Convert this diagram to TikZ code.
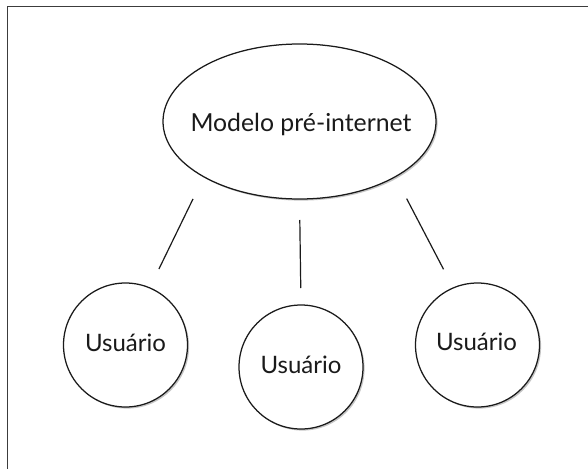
\documentclass[tikz,border=0pt]{standalone}
\usepackage{fontspec}
\setmainfont{Lato}
\usetikzlibrary{shapes.geometric,shadows}
\definecolor{ink}{HTML}{1A1A1A}
\begin{document}
\begin{tikzpicture}[x=1pt,y=-1pt,
  every node/.style={inner sep=0pt,outer sep=0pt,font=\fontsize{24}{28}\selectfont,text=ink},
  shadowed/.style={draw=ink,line width=1.25pt,fill=white,
    drop shadow={shadow xshift=1.6pt,shadow yshift=-1.6pt,fill=black!45}},
  topbox/.style={shadowed,ellipse,minimum width=273pt,minimum height=155pt},
  userbox/.style={shadowed,circle,minimum size=124pt},
  link/.style={draw=ink,line width=1.2pt}]
\useasboundingbox (0,0) rectangle (588,468);
\draw[draw=ink!85,line width=1pt] (7,500) -- (7,7) -- (620,7);
\node[topbox] (top) at (299.5,121.5) {};
\node[font=\fontsize{24.8}{28}\selectfont] (toplabel) at (301,124) {Modelo pré-internet};
\node[userbox] (u1) at (125.5,345) {};
\node[userbox] (u2) at (301,367) {};
\node[userbox] (u3) at (477.5,345) {};
\node (l1) at (125.5,343) {Usuário};
\node (l2) at (301,365) {Usuário};
\node (l3) at (476.5,342) {Usuário};
\draw[link,shorten <=24.7pt,shorten >=21pt] (top.210) -- (u1.67);
\draw[link,shorten <=21pt,shorten >=17pt] (top.south) -- (u2.north);
\draw[link,shorten <=24.7pt,shorten >=21pt] (top.330) -- (u3.113);
\end{tikzpicture}
\end{document}
